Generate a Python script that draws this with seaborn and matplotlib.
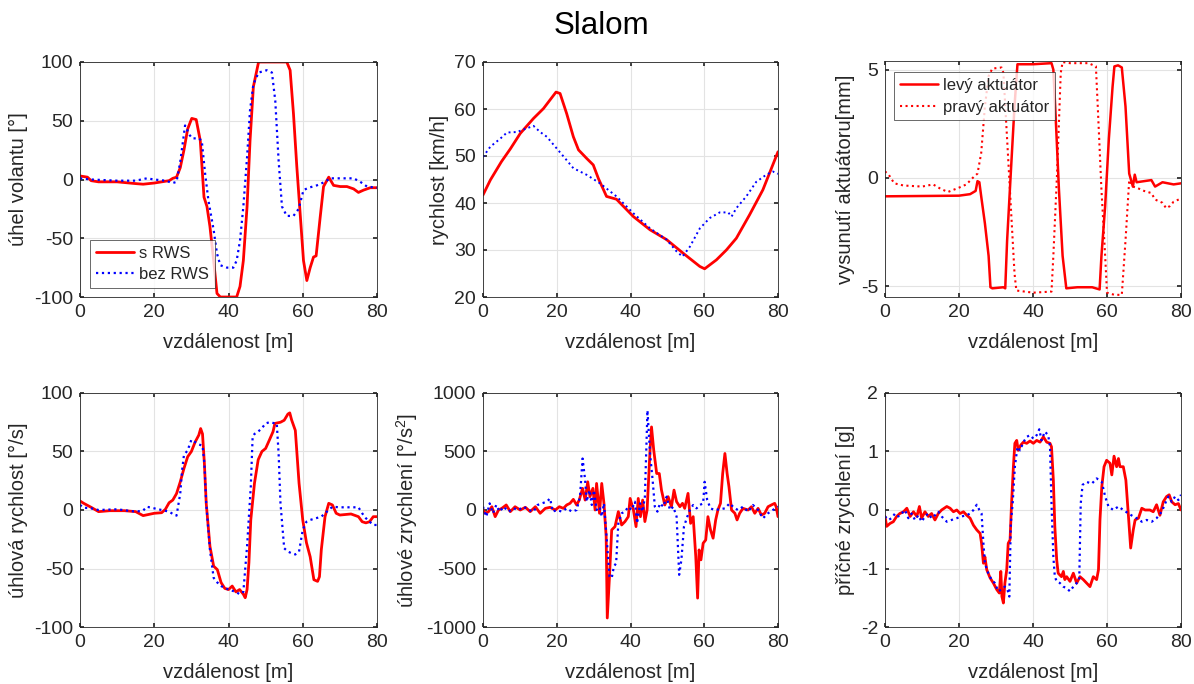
import numpy as np
import pandas as pd
import matplotlib
matplotlib.use("Agg")
import matplotlib.pyplot as plt
import seaborn as sns

# ---------------- data ----------------
# 1) steering wheel angle
sw_red_x = [0, 2, 3, 5, 10, 15, 17, 20, 24, 25, 26, 27, 28, 29, 30.1, 31.3, 32.4, 33.4, 34.2, 35, 36, 36.9, 37.8,
            42.2, 43.1, 44, 45, 45.8, 46.7, 48.1, 55.7, 56.6, 57.5, 58.4, 59.3, 60.2, 61.1, 62, 62.9, 63.6, 64.7,
            65.6, 67, 68.3, 70.1, 71.9, 73.7, 75, 76.4, 78.2, 80]
sw_red_y = [3, 2, -1, -2, -2, -3.5, -4, -3, -1, 1, 2, 10, 25, 43, 52, 51, 33, -15, -23, -40, -69, -97, -100,
            -100, -91, -69, -23, 33, 79, 100, 100, 93, 56, 11, -29, -69, -86, -75, -66, -65, -32,
            -6, 2, -5, -6, -6, -8, -11, -9, -7, -7]
sw_blue_x = [0, 3, 10, 15, 18, 20, 23, 25, 26, 27, 28.3, 29.5, 30.2, 32, 32.8, 33.7, 34.6, 36, 36.9, 37.8, 39.6,
             41.3, 42.2, 43.1, 44, 45, 45.8, 46.7, 48.1, 50.3, 51.7, 52.6, 53.5, 54.4, 55.7, 57.5, 58.9, 60.2,
             61.6, 63.8, 66, 67.4, 69.2, 73.7, 75.5, 77.3, 80]
sw_blue_y = [1, 0, -1, -1, 1, 0, -1, -3, -2, 15, 46, 38, 35, 35, 33, 5, -18, -43, -63, -73, -75,
             -75, -69, -52, -23, 19, 59, 81, 91, 93, 91, 67, 16, -23, -31, -31, -25, -9,
             -7, -5, -2, 1, 1, 1, -2, -6, -7]

# 2) speed
v_red_x = [0, 2, 5, 7.4, 10.1, 13.7, 16.4, 19.8, 20.9, 22.7, 24.5, 25.9, 28.1, 29.9, 31.3, 33.5, 36.2, 40.8,
           45.3, 49.8, 54.3, 58.8, 60.1, 63.3, 66, 68.7, 72.3, 75.9, 80]
v_red_y = [41.7, 44.9, 48.8, 51.5, 54.8, 58, 60.1, 63.6, 63.3, 59, 54.1, 51.3, 49.5, 48.1, 45.2, 41.4, 40.8, 37.1,
           34.3, 32.2, 29.3, 26.5, 26, 27.9, 30, 32.5, 37.5, 42.8, 50.9]
v_blue_x = [0, 2, 4.7, 6.5, 9.2, 11.9, 13.7, 15.5, 17.3, 20, 22.7, 24.5, 28.1, 31.7, 36.2, 40.8, 45.3, 49.8,
            52.5, 54.1, 56.1, 58.8, 61.5, 64.2, 66.5, 67.4, 68.7, 71.4, 74.1, 76.8, 78.6, 80]
v_blue_y = [49.8, 52, 53.7, 55, 55.1, 55.9, 56.4, 55.1, 54.1, 51.6, 49.1, 47.4, 46, 44.2, 41.4, 37.8, 34.6, 32.2,
            29.7, 28.6, 30.7, 34.6, 36.8, 38, 38, 37.1, 38.9, 41.4, 44.5, 46, 46.7, 46.2]

# 3) actuators
act_l_x = [0, 20, 23, 24.5, 25, 25.5, 26, 27, 28, 28.5, 29, 32, 32.5, 33, 34, 35, 35.8, 40, 45, 45.5, 46, 47, 48,
           49, 52, 56, 58, 58.5, 59.5, 60.5, 61.5, 62, 63, 64, 65, 66, 67, 67.5, 68, 70, 72, 73, 75, 78, 80]
act_l_y = [-0.85, -0.82, -0.75, -0.6, -0.15, -0.2, -0.85, -2.1, -3.6, -5.05, -5.1, -5.05, -5.1, -2.9, 0.23, 3.3,
           5.25, 5.25, 5.3, 5.0, 3.3, -0.5, -3.6, -5.1, -5.05, -5.05, -5.15, -3.6, -1.3, 1.8, 4.2, 5.15, 5.2,
           5.1, 3.3, 0.2, -0.4, 0.15, -0.2, -0.15, -0.1, -0.4, -0.2, -0.3, -0.25]
act_r_x = [0, 1, 2.5, 5, 10, 13, 15, 17, 20, 22, 24, 25, 26, 27, 28, 29, 31.5, 32, 33, 34, 35, 35.5, 40, 45,
           45.5, 46.5, 47.5, 48, 50, 55, 57, 57.5, 58.5, 59.5, 60, 62, 64, 65, 66, 67, 68, 70, 72, 73, 75, 76,
           77, 78, 80]
act_r_y = [0.3, 0.15, -0.25, -0.35, -0.4, -0.3, -0.5, -0.65, -0.45, -0.3, 0.05, 0.2, 1.15, 3.3, 4.7, 5.05, 5.1,
           4.85, 1.8, -1.3, -4.4, -5.2, -5.3, -5.25, -3.6, 0.2, 4.85, 5.35, 5.3, 5.3, 5.15, 3.3, -0.55, -3.6,
           -5.3, -5.4, -5.4, -2.9, -0.1, -0.4, -0.45, -0.6, -0.7, -1.0, -1.15, -1.4, -1.3, -1.1, -0.95]

# 4) yaw rate
yr_red_x = [0, 1, 3, 5, 8, 12, 15, 17, 20, 22, 23, 24, 25, 26, 27, 28, 29, 30, 31, 32, 32.5, 33, 33.5, 34, 35,
            36, 37, 38, 39, 40, 41, 42, 43, 44, 44.5, 45, 45.5, 46, 47, 48, 49, 50, 51, 52, 52.5, 54, 55, 56,
            56.5, 57, 58, 59, 60, 61, 62, 63, 64, 64.5, 65, 66, 67, 68, 69, 70, 73, 75, 76, 77, 78, 79, 80]
yr_red_y = [7.7, 5.7, 2.3, -1.4, -0.6, -0.6, -1.4, -4.8, -2.8, -2.3, 0.6, 6.2, 8.5, 14, 24, 35.5, 45.5, 50, 58,
            64, 69.6, 65, 40, 5.7, -31, -48, -51, -62, -67, -68, -65, -70, -68, -72, -75, -68, -45, -8.5, 23,
            43, 50, 52.6, 59.7, 67, 74, 75, 76.7, 82, 83, 77, 68, 23, -8.5, -28, -40, -59.6, -61, -57, -34,
            -5.7, 5.7, 4.3, -2.8, -4.3, -3.4, -5.7, -10, -11, -10, -5.7, -5.7]
yr_blue_x = [0, 1, 3, 5, 10, 15, 17, 18, 20, 22, 24, 25, 26, 27, 27.5, 28, 29, 30, 31, 32, 33, 33.5, 34, 35, 36,
             37, 38, 40, 42, 43, 44, 45, 46, 46.5, 47, 48, 49, 50, 51, 52, 53, 53.5, 54, 55, 56, 57, 58, 59,
             60, 61, 62, 65, 66, 67, 68, 70, 75, 76, 77, 78, 79, 80]
yr_blue_y = [4.3, 2, 1.4, 0, 0.6, -1.4, -0.5, 2.8, 1.4, 0, -1.4, -3.4, -4.8, 14, 34, 47, 51, 60, 58, 56, 55, 40,
             5.7, -34, -58, -62, -65, -68, -70, -72, -70, -31, 20, 62.5, 65, 67, 70, 74, 75, 74.4, 74, 48, 5.7,
             -32.7, -35.5, -37, -38, -35.5, -17, -10, -8.5, -5.7, -2.8, 0, 2.8, 2.3, 2.3, -2.8, -7, -10, -12.8,
             -12.8]

# 5) yaw acceleration
ya_red_x = [0, 0.6, 1.5, 2.4, 3.3, 4.2, 5.1, 6.3, 7.4, 8.7, 10.1, 11.5, 12.8, 14.2, 15.5, 16.9, 18.2, 19.6, 20.7,
            21.8, 22.7, 23.6, 24.5, 25.4, 26.1, 27, 27.7, 28.4, 29, 29.8, 30.4, 30.8, 31.6, 32.2, 32.8, 33.4,
            33.7, 34.3, 34.9, 35.8, 36.7, 37.6, 38.5, 39.4, 39.9, 40.8, 41.5, 42.1, 42.7, 43.3, 43.9, 44.5,
            45.3, 45.7, 46.3, 47.1, 47.8, 48.4, 49.3, 50.2, 51.1, 51.8, 52.5, 53.4, 54.1, 54.7, 55.6, 56.3, 57,
            57.7, 58.2, 58.6, 59.1, 59.7, 60.4, 61, 61.7, 62.4, 63.1, 63.7, 64.4, 65, 65.6, 66.2, 66.7, 67.4,
            68.3, 68.9, 69.6, 70.5, 71.9, 72.8, 73.7, 74.6, 75.5, 76.4, 77.3, 78.2, 79.1, 79.5, 80]
ya_red_y = [0, -28, -14, 28, -57, 0, 14, 43, -14, 28, 0, 23, -14, 28, -28, 14, 23, 0, 28,
            14, 43, 57, 91, 43, 85, 185, 85, 241, 114, 185, 0, 227, -28, 227, 57, -227,
            -923, -568, -170, -142, -14, -128, -99, -57, 99, 0, -142, 99, -57, 85, -99, 0,
            511, 710, 511, 312, 312, 170, 43, 114, 28, 170, 71, 28, 57, 14, 142, -114, -57,
            -398, -753, -341, -426, -284, -256, -57, -170, -241, -85, 0, 57, 312, 483, 312, 199, 0,
            -28, -85, -28, 14, 0, 28, -28, 14, -43, -28, 28, 43, 57, 28, -57]
ya_blue_x = [0, 0.9, 1.8, 2.7, 3.6, 4.5, 5.6, 6.9, 8.3, 9.6, 11, 12.4, 13.7, 14.8, 16, 17.3, 18.2, 18.9, 20,
             21.4, 22.7, 24.1, 25.4, 26.3, 27, 27.7, 28.1, 28.9, 29.5, 30.1, 30.8, 31.6, 32.2, 32.8, 33.5,
             34.3, 34.9, 35.5, 36.1, 36.7, 37.6, 38.5, 39.4, 40.3, 41.2, 41.8, 42.6, 43.3, 43.9, 44.6, 45.3,
             46, 46.6, 47.3, 48, 48.9, 49.8, 50.7, 51.6, 52.5, 53.2, 53.8, 54.5, 55.4, 56.1, 57, 57.9, 58.8,
             59.7, 60.1, 60.8, 61.7, 62.8, 64.2, 65.6, 66.9, 67.8, 69.1, 70.5, 71.9, 73.2, 74.6, 75.9, 77.3,
             78.6, 80]
ya_blue_y = [28, -57, 57, -28, 43, -14, 28, -14, 14, 0, 28, 0, -14, 43, 57, 71, 99, -14, 0,
             -14, 14, -14, 0, 114, 440, 256, 71, 170, 43, 170, 0, 28, -57, 57, -227,
             -568, -582, -483, -455, -114, -28, -14, 28, 0, 71, -114, 57, -14, 114, 852, 483,
             256, 28, -14, 57, 28, 114, 0, 28, -57, -554, -426, -142, -57, 0, 43, 14, 43,
             57, 241, 85, 14, 0, 6, 14, 57, 28, 0, 28, -14, 43, 0, -71, -28,
             0, 28]

# 6) lateral acceleration
la_red_x = [0, 0.45, 1.35, 2.25, 3.15, 4, 5, 5.9, 6.8, 7.7, 8.6, 9.3, 9.9, 10.8, 11.7, 12.6, 13.5, 14.4, 15.3,
            16.7, 17.6, 18.5, 19.4, 20.3, 21.2, 22.1, 23, 23.9, 24.8, 25.7, 26.1, 26.6, 27, 27.5, 28.4, 29.3,
            30.2, 30.9, 31.3, 31.6, 32, 32.4, 32.9, 33.3, 33.8, 34.2, 34.7, 35.1, 35.6, 36, 36.7, 37.4, 38.3,
            39.2, 40.1, 41, 41.9, 42.8, 43.7, 44.6, 45, 45.5, 45.9, 46.4, 46.8, 47.7, 48.2, 48.6, 49.1, 50,
            50.9, 51.8, 52.7, 53.6, 54.5, 55.4, 56.3, 57.2, 57.7, 58.1, 58.6, 59.2, 59.9, 60.8, 61.3, 61.9,
            62.6, 63.1, 63.5, 64.4, 65.1, 65.8, 66.4, 67.1, 67.6, 68.5, 69.4, 70.3, 71.6, 72.5, 73.4, 74.3,
            75.2, 76.1, 76.8, 77.5, 78.4, 79.3, 80]
la_red_y = [-0.11, -0.28, -0.23, -0.2, -0.11, -0.06, -0.03, 0.03, -0.11, -0.03, -0.11, 0.06, -0.14, -0.03, -0.11,
            -0.06, -0.17, -0.06, 0, 0.06, 0.03, -0.03, 0, -0.06, -0.03, -0.09, -0.14, -0.26, -0.34, -0.4,
            -0.57, -0.91, -0.8, -1.02, -1.16, -1.25, -1.36, -1.42, -1.05, -1.48, -1.59, -1.25, -1.02, -0.57,
            -0.51, 0.11, 0.74, 1.14, 1.19, 1.02, 1.11, 1.16, 1.14, 1.18, 1.14, 1.19, 1.16, 1.25, 1.16, 1.14,
            1.08, 0.51, -0.28, -0.85, -1.08, -1.14, -1.05, -1.19, -1.14, -1.22, -1.08, -1.25, -1.14, -1.19,
            -1.25, -1.31, -1.14, -1.19, -1.02, -0.17, 0.4, 0.74, 0.85, 0.8, 0.6, 0.92, 0.74, 0.88, 0.74,
            0.74, 0.51, -0.11, -0.65, -0.34, -0.17, -0.14, 0.03, 0, 0, -0.03, 0.09, -0.09, 0.14, 0.23, 0.26,
            0.14, 0.09, 0.11, 0]
la_blue_x = [0, 0.9, 1.8, 2.7, 3.6, 4.5, 5.4, 6.3, 7.2, 8.1, 9, 9.9, 10.8, 11.7, 12.6, 13.5, 14.4, 15.3, 16.7,
             18, 19.4, 20.7, 22.1, 23, 23.9, 24.8, 25.5, 26.1, 26.6, 27, 27.9, 28.8, 29.7, 30.6, 31.5, 32.4,
             33.1, 33.6, 34, 34.5, 35.1, 35.8, 36.5, 37.4, 38.3, 39.2, 40.1, 41, 41.7, 42.3, 43.2, 44.1,
             44.6, 45, 45.5, 45.9, 46.4, 47.3, 48.2, 49.1, 50, 50.9, 51.8, 52.5, 52.9, 53.4, 54.5, 55.9,
             57.2, 58.6, 59.5, 60.4, 61.7, 63.1, 64.4, 65.8, 67.1, 68, 69.4, 70.7, 72.1, 73.4, 74.8, 75.7,
             76.6, 77.5, 78.4, 79.3, 80]
la_blue_y = [-0.11, -0.17, -0.14, -0.06, -0.11, -0.06, 0, -0.14, -0.06, -0.17, -0.09, -0.2, -0.11, -0.06,
             -0.14, -0.09, -0.03, -0.11, -0.2, -0.17, -0.14, -0.11, -0.09, -0.06, 0, 0.09, 0, -0.06, -0.57,
             -0.91, -1.08, -1.19, -1.25, -1.39, -1.36, -1.31, -1.36, -1.48, -0.23, 0.11, 0.74, 1.08, 1.02,
             1.16, 1.25, 1.28, 1.22, 1.28, 1.38, 1.19, 1.34, 1.28, 1.08, 0.11, -0.8, -1.14, -1.22, -1.25,
             -1.31, -1.34, -1.39, -1.31, -1.25, -1.19, 0.11, 0.43, 0.48, 0.45, 0.54, 0.48, 0.23, 0.06, 0,
             0.06, 0, -0.06, -0.11, -0.14, -0.2, -0.17, -0.2, -0.14, -0.03, 0.11, 0.23, 0.14, 0.23, 0.17,
             0.26]

title_text = "Slalom"
xlabel_text = "vzdálenost [m]"
ylabels = ["úhel volantu [°]", "rychlost [km/h]", "vysunutí aktuátoru[mm]",
           "úhlová rychlost [°/s]", "úhlové zrychlení [°/s$^2$]", "příčné zrychlení [g]"]
legend1 = ["s RWS", "bez RWS"]
legend3 = ["levý aktuátor", "pravý aktuátor"]

# ---------------- style ----------------
sns.set_theme(style="whitegrid")
plt.rcParams["font.family"] = ["Liberation Sans", "DejaVu Sans"]
plt.rcParams["mathtext.fontset"] = "custom"
plt.rcParams["mathtext.rm"] = "Liberation Sans"
plt.rcParams["mathtext.it"] = "Liberation Sans"
plt.rcParams["axes.unicode_minus"] = False

RED = "#ff0000"
BLUE = "#0000ff"
W = 1194
H = 684
fig = plt.figure(figsize=(W / 100, H / 100), dpi=100)
fig.patch.set_facecolor("white")


def make_ax(l, t, r, b):
    return fig.add_axes([l / W, 1 - b / H, (r - l) / W, (b - t) / H])


boxes = [(80, 62, 377, 297), (483, 62, 778, 297), (885, 61, 1181, 297),
         (80, 393, 377, 627), (483, 393, 778, 627), (885, 393, 1181, 627)]
axes = [make_ax(*b) for b in boxes]


def line(ax, x, y, color, ls, lw, label=None):
    df = pd.DataFrame({"x": x, "y": y})
    sns.lineplot(data=df, x="x", y="y", ax=ax, color=color, linestyle=ls, linewidth=lw,
                 estimator=None, sort=False, label=label, legend=False)


line(axes[0], sw_red_x, sw_red_y, RED, "-", 2.0, legend1[0])
line(axes[0], sw_blue_x, sw_blue_y, BLUE, ":", 1.6, legend1[1])
line(axes[1], v_red_x, v_red_y, RED, "-", 2.0)
line(axes[1], v_blue_x, v_blue_y, BLUE, ":", 1.4)
line(axes[2], act_l_x, act_l_y, RED, "-", 1.8, legend3[0])
line(axes[2], act_r_x, act_r_y, RED, ":", 1.5, legend3[1])
line(axes[3], yr_red_x, yr_red_y, RED, "-", 2.0)
line(axes[3], yr_blue_x, yr_blue_y, BLUE, ":", 1.6)
line(axes[4], ya_red_x, ya_red_y, RED, "-", 2.0)
line(axes[4], ya_blue_x, ya_blue_y, BLUE, ":", 1.6)
line(axes[5], la_red_x, la_red_y, RED, "-", 2.0)
line(axes[5], la_blue_x, la_blue_y, BLUE, ":", 1.6)

ylims = [(-100, 100), (20, 70), (-5.5, 5.4), (-100, 100), (-1000, 1000), (-2, 2)]
yticks = [[-100, -50, 0, 50, 100], [20, 30, 40, 50, 60, 70], [-5, 0, 5],
          [-100, -50, 0, 50, 100], [-1000, -500, 0, 500, 1000], [-2, -1, 0, 1, 2]]

for ax, yl, yt, lab in zip(axes, ylims, yticks, ylabels):
    ax.set_xlim(0, 80)
    ax.set_ylim(*yl)
    ax.set_xticks([0, 20, 40, 60, 80])
    ax.set_yticks(yt)
    ax.set_xlabel(xlabel_text, fontsize=14.5, color="#262626", labelpad=9)
    ax.set_ylabel(lab, fontsize=14.5, color="#262626", labelpad=4)
    ax.set_facecolor("white")
    ax.grid(True, color="#e3e3e3", linewidth=0.8)
    ax.tick_params(axis="both", labelsize=14, colors="#262626", direction="in", length=3,
                   left=True, bottom=True, top=True, right=True, pad=5)
    for s in ax.spines.values():
        s.set_color("#262626")
        s.set_linewidth(0.6)

leg1 = axes[0].legend(loc="lower left", fontsize=12, frameon=True, fancybox=False,
                      edgecolor="#262626", borderpad=0.35, handlelength=2.3, handletextpad=0.3,
                      labelspacing=0.4, borderaxespad=0, bbox_to_anchor=(0.034, 0.038))
leg1.get_frame().set_linewidth(0.6)
leg3 = axes[2].legend(loc="upper left", fontsize=12, frameon=True, fancybox=False,
                      edgecolor="#262626", borderpad=0.35, handlelength=2.3, handletextpad=0.3,
                      labelspacing=0.4, borderaxespad=0, bbox_to_anchor=(0.03, 0.953))
leg3.get_frame().set_linewidth(0.6)

fig.text(601 / W, 1 - 26 / H, title_text, ha="center", va="center", fontsize=22.5, color="black")

fig.savefig("out.png", dpi=100, facecolor="white")
